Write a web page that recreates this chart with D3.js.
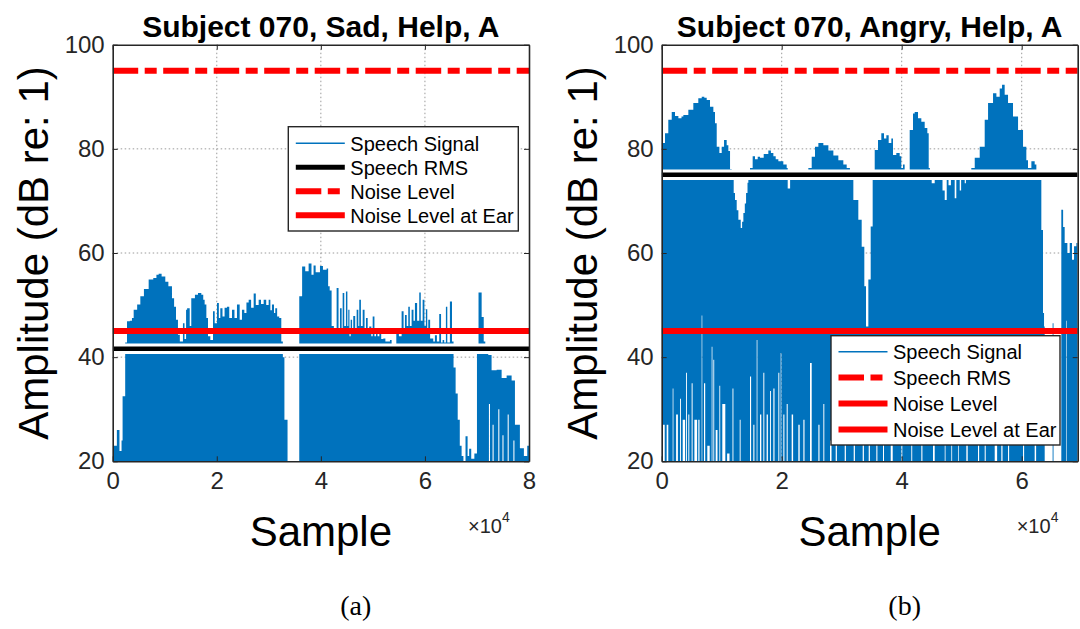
<!DOCTYPE html>
<html>
<head>
<meta charset="utf-8">
<script src="https://cdn.jsdelivr.net/npm/d3@7"></script>
<style>
  html, body { margin: 0; padding: 0; background: #fff; }
  svg { display: block; font-family: "Liberation Sans", Arial, Helvetica, sans-serif; }
</style>
</head>
<body>
<script>
// ---------- data ----------
const titles = ['Subject 070, Sad, Help, A', 'Subject 070, Angry, Help, A'];
const captions = ['(a)', '(b)'];
const yTicks = [20, 40, 60, 80, 100];
const sadXTicks = [0, 2, 4, 6, 8];      // x 10^4 samples
const angryXTicks = [0, 2, 4, 6];
const sadLength = 80000;
const angryLength = 69330;
const legendLabels = ['Speech Signal', 'Speech RMS', 'Noise Level', 'Noise Level at Ear'];

// reference levels (dB)
const sadRms = 41.6, sadNoise = 95, sadEar = 45;
const angryRms = 75.05, angryNoise = 95, angryEar = 45;

// speech signal envelope: [sample, dB] steps (upper edge / lower edge)
const sadTop = [[0,23],[800,26],[1300,22],[1700,24],[1900,32.5],[2400,42.8],[2750,46.9],[3300,47],[3700,47.5],
  [4030,49.1],[4700,50.1],[5310,51.7],[6000,53.1],[6910,54.9],[7800,55.2],[8400,55.8],[8830,56.0],[9400,55.5],
  [10110,54.5],[10700,53.6],[11390,51.3],[11800,49.7],[12160,47.2],[12540,44.3],[12900,43.0],[13500,46.5],
  [13800,43.5],[14100,49.1],[14300,49.4],[14800,46],[15100,51.3],[15800,52.0],[16390,52.3],[17030,52.0],
  [17400,51.0],[17670,50.1],[18000,47.5],[18310,44.0],[18760,43.3],[19270,48.8],[19600,46.5],[20040,50.4],
  [20400,47.5],[20680,49.4],[21100,47.8],[21500,49.5],[21960,49.7],[22400,47.5],[22920,49.1],[23400,47.5],
  [23880,50.1],[24400,47.2],[24840,49.1],[25300,48.5],[25700,50.5],[26130,51.0],[26600,49.5],[27090,52.2],
  [27500,50.0],[28050,51.0],[28500,50.2],[29010,51.0],[29500,50.0],[29970,51.0],[30300,49.0],[30600,50.1],
  [31000,48.5],[31240,49.4],[31600,47.8],[32000,47.5],[32400,43.0],[32700,40],[33000,28],[33600,20],
  [35850,51.7],[36400,57.4],[37000,56.5],[37650,58.0],[38200,55.8],[38600,57.6],[39000,56.3],[39830,57.5],
  [40400,56.8],[41110,57.0],[41400,53.6],[41700,52.8],[42070,46.0],[42500,45],[43030,53.3],[43400,45],
  [43670,49.4],[44000,45.5],[44190,52.3],[44500,46],[44820,52.6],[45100,46],[45270,49.1],[45500,44],
  [45730,47.2],[46000,44.5],[46230,47.9],[46600,45],[46880,49.1],[47200,46],[47380,51.0],[47700,46],
  [48040,49.1],[48400,45],[48670,47.5],[49000,44.5],[49300,45.9],[49700,44],[49960,47.8],[50300,44],
  [50600,45.3],[50900,44],[51240,45.6],[51600,43.5],[52000,43.6],[52400,43.0],[53280,43.3],[53600,42.5],
  [54500,45.3],[55000,44],[55520,48.8],[55900,45],[56160,48.1],[56500,46],[56800,49.7],[57100,46],
  [57440,49.1],[57800,47],[58080,50.4],[58500,47],[58910,52.4],[59200,47],[59560,51.0],[59900,46],
  [60190,49.2],[60450,45],[60640,47.2],[61000,43.6],[61600,43.0],[61920,44.2],[62300,43.0],[62750,48.3],
  [63100,42.8],[63400,43.3],[63700,42.8],[64030,49.7],[64300,42.8],[64800,50.7],[65200,43.0],[65500,38],
  [65900,33],[66300,28],[66700,23],[67050,21],[67400,20],[67800,24.8],[68200,21],[68500,22.4],[68900,20.5],
  [69500,21.5],[70000,41.5],[70300,52.4],[70900,47.7],[71300,43],[71600,41],[72170,40.4],[72810,37.5],
  [73780,37.6],[74740,36],[75700,36.5],[76660,35.5],[77300,27],[78250,22.5],[79020,21],[79660,23]];
const sadBottom = [[0,20],[72300,31],[72500,20],[73000,27],[73200,20],[74100,30],[74300,20],[74900,25],
  [75100,20],[75900,29],[76100,20],[77000,24],[77200,20]];

const angryTop = [[0,81.1],[550,83.0],[1100,85.6],[1670,87.1],[2220,86.3],[2780,85.9],[3300,86.2],[3610,86.5],
  [4440,87.5],[5270,88.8],[6100,89.7],[6670,90.0],[7100,89.8],[7500,89.4],[8050,88.1],[8610,87.1],[8880,84.9],
  [9170,80.4],[9610,79.2],[10000,80.4],[10390,81.7],[10830,80.7],[11110,79.6],[11390,76.1],[11670,75],
  [12000,71.5],[12220,70.2],[12500,68.2],[12780,66.4],[13170,64.8],[13400,66.0],[13610,67.7],[13850,69.5],
  [14060,71.5],[14300,73.5],[14440,75],[14720,76.3],[15160,78.6],[15550,78.0],[16000,78.5],[16380,78.3],
  [17000,79.0],[17770,79.7],[18200,79.2],[18610,78.6],[19000,78.0],[19440,77.6],[20270,77.0],[20830,76.3],
  [21000,72.4],[21400,75],[24440,76.3],[25000,78.5],[25550,80.4],[26110,81.1],[26940,80.7],[27780,79.7],
  [28610,78.7],[29440,77.8],[30270,77.0],[30830,76.3],[31370,75],[31940,70.2],[32770,66.4],[33330,61.2],
  [33770,53.6],[34050,45.9],[34440,54.9],[34830,65.1],[35160,75],[35500,79.8],[36050,81.7],[36600,83.0],
  [37050,82.0],[37440,82.6],[37830,81.1],[38270,82.0],[38550,78.8],[39100,79.2],[39660,78.6],[39930,76.3],
  [40210,77.0],[40490,75],[41330,83.6],[41880,86.8],[42160,87.1],[42720,85.9],[43270,85.2],[43830,84.0],
  [44270,83.0],[44500,76.3],[44700,75],[45000,73.4],[45500,75],[46800,72],[47170,70.2],[47500,75],
  [47800,73],[48200,75],[48830,70.5],[49100,75],[49670,72],[49900,75],[50500,73.4],[50700,75],[51600,76.3],
  [52170,78.3],[53000,80.4],[53830,85.6],[54390,88.8],[55220,90.7],[55780,90.0],[56330,91.6],[56720,92.3],
  [57160,90.4],[57720,88.8],[58550,86.2],[59390,83.6],[60220,80.4],[60770,77.8],[61050,76.3],[61610,77.6],
  [62160,77.0],[62440,75],[63000,75],[63270,64.4],[63550,48.5],[63720,45.9],[63830,20],[65150,46.5],
  [65300,20],[66600,68.3],[66900,65],[67160,61.9],[67610,60.0],[68000,61.9],[68380,58.7],[68720,61.3],
  [69110,61.9]];
const angryBottom = [[0,20],[200,27],[500,20],[830,27],[1100,20],[1830,34],[1950,20],[2400,29],[2700,20],
  [3050,32],[3200,20],[3500,28],[3900,20],[4050,37],[4200,20],[4440,29],[4600,20],[4990,35],[5150,20],
  [5450,28],[5900,20],[6100,28],[6300,20],[6660,48],[6760,20],[7050,35],[7250,20],[7600,23],[8000,20],
  [8330,42],[8450,20],[8610,39.5],[8750,20],[9000,26],[9300,20],[9610,34.5],[9750,20],[10100,31],[10600,20],
  [10900,21.5],[11300,20],[11800,34],[11950,20],[13000,28],[13150,20],[14720,36.3],[14900,20],[15270,27],
  [15450,20],[15830,43.3],[15950,20],[16380,29],[16600,20],[16940,37],[17100,20],[17490,29],[17700,20],
  [18050,33.5],[18200,20],[18610,34],[18800,20],[19440,37],[19600,20],[19830,40.8],[19950,20],[20270,29],
  [20450,20],[20830,31],[21000,20],[21660,29],[21900,20],[22770,27],[23000,20],[23610,28],[23800,20],
  [24720,38.9],[25000,20],[26110,27],[26300,20],[26940,31],[27100,20],[28050,24],[28300,20],[29000,26],
  [29200,20],[30500,25],[30700,20],[32000,27],[32200,20],[33500,25],[33700,20],[34500,24],[34700,20],
  [35770,26],[35950,20],[36880,25],[37050,20],[38170,27],[38500,20],[39940,25],[40100,20],[41600,24],
  [41750,20],[43270,26],[43450,20],[45220,25],[45500,20],[47170,24],[47300,20],[48270,26],[48400,20],
  [49380,24],[49500,20],[50770,25],[51000,20],[52720,24],[52900,20],[53830,25],[54000,20],[55500,26],
  [55900,20],[56600,24],[56800,20],[57720,25],[57900,20],[60220,24],[60400,20],[62160,26],[62400,20],
  [67450,47],[67550,20]];

// ---------- drawing ----------
const BLUE = '#0072bd', RED = '#ff0000', AXIS = '#262626';
const DASH = '25.5,6.5,12,6.5';

const svg = d3.select(document.body).append('svg')
  .attr('width', 1080).attr('height', 629);

drawPanel({
  id: 'sad', x0: 112.7, x1: 529, title: titles[0], caption: captions[0],
  length: sadLength, xTicks: sadXTicks, top: sadTop, bottom: sadBottom,
  rms: sadRms, noise: sadNoise, ear: sadEar,
  legend: { x: 288.3, y: 126.7, w: 230, h: 104.3, first: 16.6, step: 24,
    styles: [['blue'], ['black'], ['dash'], ['red']] }
});
drawPanel({
  id: 'angry', x0: 661.7, x1: 1077.7, title: titles[1], caption: captions[1],
  length: angryLength, xTicks: angryXTicks, top: angryTop, bottom: angryBottom,
  rms: angryRms, noise: angryNoise, ear: angryEar,
  legend: { x: 831, y: 335.7, w: 229, h: 109.3, first: 16, step: 25.9,
    styles: [['blue'], ['dash'], ['red'], ['red']] }
});

// value of a step series at sample s
function stepAt(pts, s) {
  let v = pts[0][1];
  for (const p of pts) {
    if (p[0] <= s) v = p[1]; else break;
  }
  return v;
}

function envelope(top, bottom, len) {
  const xs = Array.from(new Set([...top.map(d => d[0]), ...bottom.map(d => d[0]), len]))
    .sort((a, b) => a - b);
  return xs.map(s => {
    const lo = stepAt(bottom, s), hi = stepAt(top, s);
    return { s, lo, hi: Math.max(hi, lo) };
  });
}

function drawPanel(cfg) {
  const yTop = 44.7, yBottom = 461.3;
  const x = d3.scaleLinear().domain([0, cfg.length]).range([cfg.x0, cfg.x1]);
  const y = d3.scaleLinear().domain([20, 100]).range([yBottom, yTop]);
  const g = svg.append('g').attr('id', cfg.id);

  g.append('clipPath').attr('id', 'clip-' + cfg.id)
    .append('rect').attr('x', cfg.x0).attr('y', yTop)
    .attr('width', cfg.x1 - cfg.x0).attr('height', yBottom - yTop);
  const plot = g.append('g').attr('clip-path', `url(#clip-${cfg.id})`);

  // dotted grid
  plot.selectAll('.gy').data(yTicks.slice(1, -1)).join('line')
    .attr('x1', cfg.x0).attr('x2', cfg.x1).attr('y1', d => y(d)).attr('y2', d => y(d))
    .attr('stroke', '#9a9a9a').attr('stroke-width', 1).attr('stroke-dasharray', '1.5,2.5');
  plot.selectAll('.gx').data(cfg.xTicks.filter(t => t > 0 && t * 1e4 < cfg.length)).join('line')
    .attr('x1', d => x(d * 1e4)).attr('x2', d => x(d * 1e4)).attr('y1', yTop).attr('y2', yBottom)
    .attr('stroke', '#9a9a9a').attr('stroke-width', 1).attr('stroke-dasharray', '1.5,2.5');

  // speech signal
  const area = d3.area().curve(d3.curveStepAfter)
    .x(d => x(d.s)).y0(d => y(d.lo)).y1(d => y(d.hi));
  plot.append('path').datum(envelope(cfg.top, cfg.bottom, cfg.length))
    .attr('d', area).attr('fill', BLUE);

  // reference lines
  plot.append('line').attr('x1', cfg.x0).attr('x2', cfg.x1)
    .attr('y1', y(cfg.noise)).attr('y2', y(cfg.noise))
    .attr('stroke', RED).attr('stroke-width', 6).attr('stroke-dasharray', DASH);
  plot.append('line').attr('x1', cfg.x0).attr('x2', cfg.x1)
    .attr('y1', y(cfg.ear)).attr('y2', y(cfg.ear))
    .attr('stroke', RED).attr('stroke-width', 6);
  plot.append('line').attr('x1', cfg.x0).attr('x2', cfg.x1)
    .attr('y1', y(cfg.rms)).attr('y2', y(cfg.rms))
    .attr('stroke', '#fff').attr('stroke-width', 10.5);
  plot.append('line').attr('x1', cfg.x0).attr('x2', cfg.x1)
    .attr('y1', y(cfg.rms)).attr('y2', y(cfg.rms))
    .attr('stroke', '#000').attr('stroke-width', 4.5);

  // axes (ticks point inward, box on)
  const xt = cfg.xTicks.map(t => t * 1e4);
  const axes = [
    g.append('g').attr('transform', `translate(${cfg.x0},0)`)
      .call(d3.axisLeft(y).tickValues(yTicks).tickSize(-5).tickSizeOuter(0).tickPadding(8)),
    g.append('g').attr('transform', `translate(${cfg.x1},0)`)
      .call(d3.axisRight(y).tickValues(yTicks).tickSize(-5).tickSizeOuter(0).tickFormat('')),
    g.append('g').attr('transform', `translate(0,${yBottom})`)
      .call(d3.axisBottom(x).tickValues(xt).tickSize(-5).tickSizeOuter(0).tickPadding(11)
        .tickFormat(d => d / 1e4)),
    g.append('g').attr('transform', `translate(0,${yTop})`)
      .call(d3.axisTop(x).tickValues(xt).tickSize(-5).tickSizeOuter(0).tickFormat(''))
  ];
  axes.forEach(a => {
    a.select('.domain').attr('stroke', AXIS).attr('stroke-width', 1.6);
    a.selectAll('.tick line').attr('stroke', AXIS).attr('stroke-width', 1);
    a.selectAll('.tick text').attr('fill', AXIS).attr('font-size', 24)
      .attr('font-family', '"Liberation Sans", Arial, sans-serif');
  });

  // legend
  const L = cfg.legend;
  const lg = g.append('g');
  lg.append('rect').attr('x', L.x).attr('y', L.y).attr('width', L.w).attr('height', L.h)
    .attr('fill', '#fff').attr('stroke', AXIS).attr('stroke-width', 1.4);
  legendLabels.forEach((label, i) => {
    const ry = L.y + L.first + i * L.step;
    const kind = L.styles[i][0];
    const ln = lg.append('line').attr('x1', L.x + 7.5).attr('x2', L.x + 56.5)
      .attr('y1', ry).attr('y2', ry);
    if (kind === 'blue') ln.attr('stroke', BLUE).attr('stroke-width', 1.6);
    if (kind === 'black') ln.attr('stroke', '#000').attr('stroke-width', 5);
    if (kind === 'red') ln.attr('stroke', RED).attr('stroke-width', 6);
    if (kind === 'dash') ln.attr('stroke', RED).attr('stroke-width', 6).attr('stroke-dasharray', DASH);
    lg.append('text').attr('x', L.x + 62).attr('y', ry).attr('dy', '0.36em')
      .attr('font-size', 20).attr('fill', '#000').text(label);
  });

  // labels
  const cx = (cfg.x0 + cfg.x1) / 2;
  g.append('text').attr('x', cx).attr('y', 37).attr('text-anchor', 'middle')
    .attr('font-size', 30).attr('font-weight', 'bold').attr('fill', '#000').text(cfg.title);
  g.append('text').attr('transform', `translate(${cfg.x0 - 65},${(yTop + yBottom) / 2}) rotate(-90)`)
    .attr('text-anchor', 'middle').attr('font-size', 42).attr('fill', '#000')
    .text('Amplitude (dB re: 1)');
  g.append('text').attr('x', cx).attr('y', 546).attr('text-anchor', 'middle')
    .attr('font-size', 42).attr('fill', '#000').text('Sample');
  const ex = g.append('text').attr('x', cfg.x1 - 61).attr('y', 533)
    .attr('font-size', 20).attr('fill', AXIS);
  ex.append('tspan').text('\u00d710');
  ex.append('tspan').attr('dy', -11).attr('font-size', 14).text('4');
  g.append('text').attr('x', cx + 35).attr('y', 615).attr('text-anchor', 'middle')
    .attr('font-family', '"Liberation Serif", "Times New Roman", serif')
    .attr('font-size', 28).attr('fill', '#000').text(cfg.caption);
}
</script>
</body>
</html>
